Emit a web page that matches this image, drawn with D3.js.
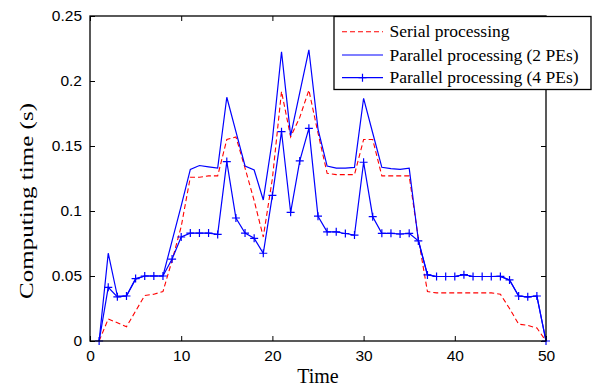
<!DOCTYPE html>
<html>
<head>
<meta charset="utf-8">
<script src="https://cdn.jsdelivr.net/npm/d3@7"></script>
<style>
  body { margin: 0; background: #fff; }
</style>
</head>
<body>
<script>
// time steps 1..50
const time = d3.range(1, 51);

const serial = [0, 0.017, 0.014, 0.011, 0.023, 0.035, 0.036, 0.038, 0.062, 0.088,
  0.126, 0.126, 0.127, 0.127, 0.155, 0.157, 0.133, 0.108, 0.080, 0.125,
  0.192, 0.157, 0.172, 0.193, 0.160, 0.129, 0.128, 0.128, 0.128, 0.155,
  0.155, 0.127, 0.127, 0.127, 0.127, 0.079, 0.038, 0.037, 0.037, 0.037,
  0.037, 0.037, 0.037, 0.037, 0.036, 0.025, 0.013, 0.012, 0.010, 0];

const pe2 = [0, 0.0675, 0.0346, 0.0346, 0.0475, 0.050, 0.050, 0.050, 0.077, 0.104,
  0.132, 0.135, 0.134, 0.133, 0.1875, 0.161, 0.1346, 0.1315, 0.1085, 0.155,
  0.2225, 0.158, 0.191, 0.224, 0.163, 0.1346, 0.133, 0.133, 0.1336, 0.1867,
  0.160, 0.1336, 0.1326, 0.132, 0.133, 0.0777, 0.051, 0.0496, 0.0496, 0.0496,
  0.051, 0.0496, 0.0496, 0.0496, 0.0497, 0.047, 0.0346, 0.034, 0.0346, 0];

const pe4 = [0, 0.0413, 0.034, 0.0346, 0.048, 0.050, 0.050, 0.050, 0.063, 0.080,
  0.083, 0.083, 0.083, 0.082, 0.138, 0.0946, 0.083, 0.079, 0.0675, 0.112,
  0.161, 0.099, 0.1385, 0.1636, 0.096, 0.084, 0.084, 0.0827, 0.0815, 0.1375,
  0.0956, 0.0828, 0.0828, 0.0823, 0.0828, 0.077, 0.0508, 0.0496, 0.0496, 0.0496,
  0.051, 0.0496, 0.0496, 0.0496, 0.0497, 0.047, 0.0346, 0.034, 0.0346, 0];

const xTicks = [0, 10, 20, 30, 40, 50];
const yTicks = [0, 0.05, 0.1, 0.15, 0.2, 0.25];
const names = ["Serial processing", "Parallel processing (2 PEs)", "Parallel processing (4 PEs)"];

const width = 602, height = 388;
const plotLeft = 90, plotRight = 546, plotTop = 16, plotBottom = 341;

const x = d3.scaleLinear().domain([0, 50]).range([plotLeft, plotRight]);
const y = d3.scaleLinear().domain([0, 0.25]).range([plotBottom, plotTop]);

const svg = d3.select("body").append("svg")
    .attr("width", width)
    .attr("height", height)
    .attr("xmlns", "http://www.w3.org/2000/svg");

const sans = "'Liberation Sans', Arial, sans-serif";
const serif = "'Liberation Serif', 'Times New Roman', serif";

function styleAxis(g, labels) {
  g.select(".domain").remove();
  g.selectAll(".tick line").attr("stroke", "#000").attr("stroke-width", 1);
  g.selectAll(".tick text")
      .attr("fill", "#000")
      .attr("font-family", sans)
      .attr("font-size", 15.5);
  if (!labels) g.selectAll(".tick text").remove();
}

svg.append("g")
    .attr("transform", `translate(0,${plotBottom})`)
    .call(d3.axisBottom(x).tickValues(xTicks).tickSizeInner(-5).tickSizeOuter(0).tickPadding(9).tickFormat(d3.format("d")))
    .call(g => styleAxis(g, true));

svg.append("g")
    .attr("transform", `translate(0,${plotTop})`)
    .call(d3.axisTop(x).tickValues(xTicks).tickSizeInner(-5).tickSizeOuter(0))
    .call(g => styleAxis(g, false));

svg.append("g")
    .attr("transform", `translate(${plotLeft},0)`)
    .call(d3.axisLeft(y).tickValues(yTicks).tickSizeInner(-5).tickSizeOuter(0).tickPadding(8).tickFormat(d => String(d)))
    .call(g => styleAxis(g, true));

svg.append("g")
    .attr("transform", `translate(${plotRight},0)`)
    .call(d3.axisRight(y).tickValues(yTicks).tickSizeInner(-5).tickSizeOuter(0))
    .call(g => styleAxis(g, false));

// series
const line = d3.line()
    .x((d, i) => x(time[i]))
    .y(d => y(d));

svg.append("path")
    .attr("d", line(serial))
    .attr("fill", "none")
    .attr("stroke", "#ff0000")
    .attr("stroke-width", 1.1)
    .attr("stroke-dasharray", "5,3");

svg.append("path")
    .attr("d", line(pe2))
    .attr("fill", "none")
    .attr("stroke", "#0000ff")
    .attr("stroke-width", 1.2);

svg.append("path")
    .attr("d", line(pe4))
    .attr("fill", "none")
    .attr("stroke", "#0000ff")
    .attr("stroke-width", 1.2);

const plus = "M-4,0H4M0,-4V4";
svg.append("g")
    .selectAll("path")
    .data(pe4)
    .join("path")
    .attr("transform", (d, i) => `translate(${x(time[i])},${y(d)})`)
    .attr("d", plus)
    .attr("fill", "none")
    .attr("stroke", "#0000ff")
    .attr("stroke-width", 1.2);

// box
svg.append("rect")
    .attr("x", plotLeft).attr("y", plotTop)
    .attr("width", plotRight - plotLeft).attr("height", plotBottom - plotTop)
    .attr("fill", "none")
    .attr("stroke", "#000")
    .attr("stroke-width", 1.3);

// axis titles
svg.append("text")
    .attr("x", (plotLeft + plotRight) / 2)
    .attr("y", 383)
    .attr("text-anchor", "middle")
    .attr("font-family", serif)
    .attr("font-size", 20)
    .text("Time");

svg.append("text")
    .attr("transform", "translate(33,201) rotate(-90)")
    .attr("text-anchor", "middle")
    .attr("font-family", serif)
    .attr("font-size", 19.5)
    .attr("textLength", 196)
    .attr("lengthAdjust", "spacingAndGlyphs")
    .text("Computing time (s)");

// legend
const legend = svg.append("g");
legend.append("rect")
    .attr("x", 334).attr("y", 16.5)
    .attr("width", 257).attr("height", 73)
    .attr("fill", "#fff")
    .attr("stroke", "#000")
    .attr("stroke-width", 1.3);

const rowY = [31.7, 55, 77.7];
const item = legend.selectAll("g.item")
    .data(names)
    .join("g")
    .attr("class", "item")
    .attr("transform", (d, i) => `translate(0,${rowY[i]})`);

item.append("line")
    .attr("x1", 342).attr("x2", 383)
    .attr("stroke", (d, i) => i === 0 ? "#ff0000" : "#0000ff")
    .attr("stroke-width", (d, i) => i === 0 ? 1.1 : 1.2)
    .attr("stroke-dasharray", (d, i) => i === 0 ? "5,3" : null);

item.filter((d, i) => i === 2)
    .append("path")
    .attr("transform", "translate(362.5,0)")
    .attr("d", plus)
    .attr("stroke", "#0000ff")
    .attr("stroke-width", 1.2);

item.append("text")
    .attr("x", 389.5)
    .attr("y", 5.5)
    .attr("font-family", serif)
    .attr("font-size", 17.5)
    .attr("fill", "#000")
    .text(d => d);
</script>
</body>
</html>
